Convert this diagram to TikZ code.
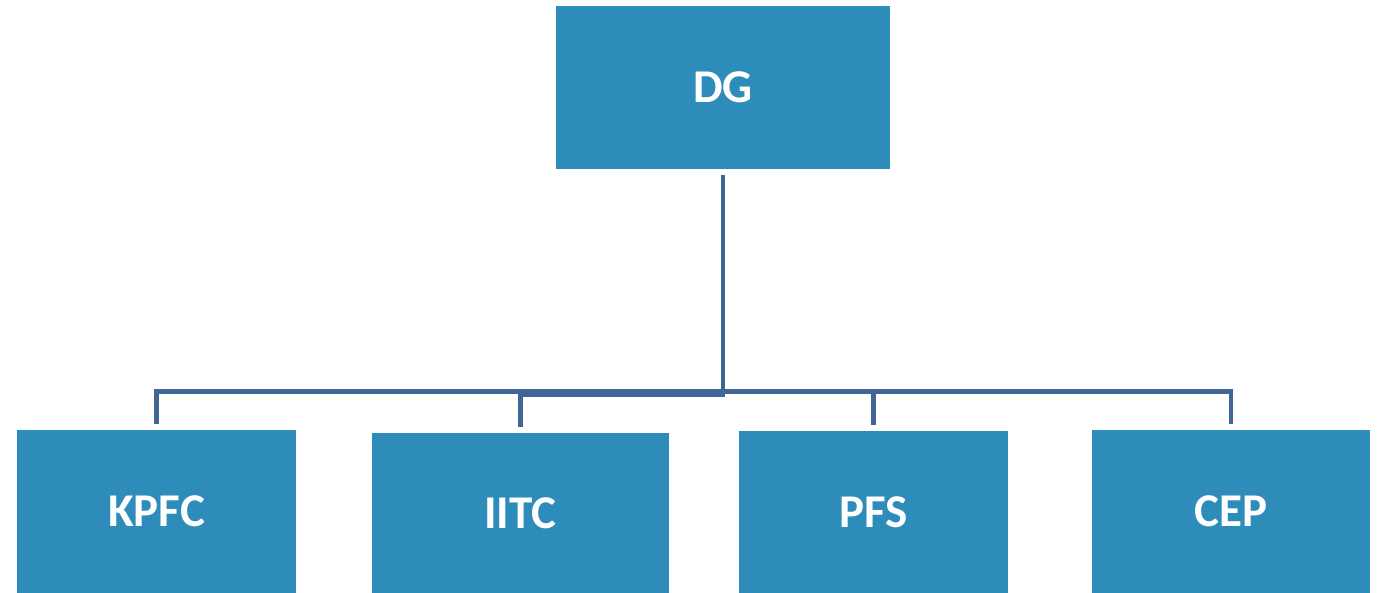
\documentclass[tikz,border=0pt]{standalone}
\usepackage{fontspec}
\setmainfont{Carlito}
\definecolor{boxblue}{HTML}{2E8CBA}
\definecolor{linecol}{HTML}{3F6696}
\begin{document}
\begin{tikzpicture}[x=1pt,y=-1pt,
  orgbox/.style={fill=boxblue,draw=none,inner sep=0pt,text=white,
    font=\fontsize{47}{50}\selectfont\bfseries},
  conn/.style={draw=linecol,line width=4.6pt,shorten <=6pt,shorten >=5.5pt}]
\useasboundingbox (0,0) rectangle (1377,593);
\node[orgbox,minimum width=334pt,minimum height=163pt] (dg) at (723,87.5) {DG};
\node[orgbox,minimum width=279pt,minimum height=163pt] (kpfc) at (156.5,511.5) {KPFC};
\node[orgbox,minimum width=297pt,minimum height=160pt] (iitc) at (520.5,513) {IITC};
\node[orgbox,minimum width=269pt,minimum height=162pt] (pfs) at (873.5,512) {PFS};
\node[orgbox,minimum width=278pt,minimum height=163pt] (cep) at (1231,511.5) {CEP};
\coordinate (busA) at (0,391.5);
\coordinate (busB) at (0,395);
\draw[conn] (dg.south) -- (dg.south |- busA) -| (kpfc.north);
\draw[conn] (dg.south) -- (dg.south |- busB) -| (iitc.north);
\draw[conn] (dg.south) -- (dg.south |- busA) -| (pfs.north);
\draw[conn] (dg.south) -- (dg.south |- busA) -| (cep.north);
\end{tikzpicture}
\end{document}
